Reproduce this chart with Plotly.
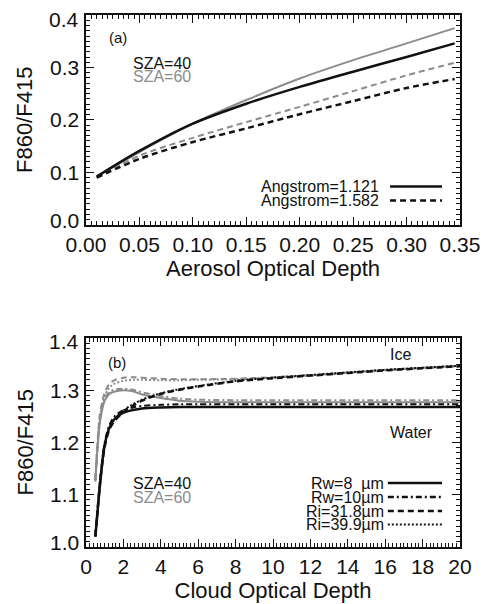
import plotly.graph_objects as go
from plotly.subplots import make_subplots

# ---------------- Panel (a) data ----------------
aod = [0.01, 0.05, 0.10, 0.15, 0.20, 0.25, 0.30, 0.345]
a_sza40_ang1121 = [0.092, 0.141, 0.193, 0.231, 0.263, 0.292, 0.320, 0.346]
a_sza60_ang1121 = [0.092, 0.139, 0.193, 0.238, 0.279, 0.314, 0.346, 0.375]
a_sza40_ang1582 = [0.090, 0.126, 0.158, 0.184, 0.211, 0.236, 0.261, 0.278]
a_sza60_ang1582 = [0.090, 0.132, 0.166, 0.196, 0.225, 0.255, 0.285, 0.309]

# ---------------- Panel (b) data ----------------
cod = [0.5, 0.6, 0.75, 1.0, 1.25, 1.5, 2.0, 2.5, 3.0, 4.0, 5.0, 6.0, 8.0, 10.0, 12.0, 14.0, 16.0, 18.0, 20.0]
b_rw8_sza40   = [1.020, 1.060, 1.120, 1.195, 1.228, 1.244, 1.257, 1.262, 1.265, 1.267, 1.268, 1.268, 1.268, 1.268, 1.268, 1.268, 1.268, 1.268, 1.268]
b_rw10_sza40  = [1.022, 1.064, 1.125, 1.200, 1.233, 1.249, 1.262, 1.267, 1.270, 1.272, 1.273, 1.273, 1.273, 1.273, 1.273, 1.273, 1.273, 1.273, 1.273]
b_ri318_sza40 = [1.020, 1.062, 1.122, 1.192, 1.225, 1.240, 1.258, 1.270, 1.280, 1.293, 1.301, 1.307, 1.317, 1.323, 1.328, 1.333, 1.338, 1.342, 1.346]
b_ri399_sza40 = [1.021, 1.063, 1.124, 1.195, 1.228, 1.243, 1.261, 1.273, 1.282, 1.294, 1.302, 1.308, 1.318, 1.324, 1.329, 1.334, 1.339, 1.343, 1.347]
b_rw8_sza60   = [1.125, 1.180, 1.240, 1.280, 1.293, 1.297, 1.300, 1.298, 1.292, 1.285, 1.280, 1.278, 1.277, 1.277, 1.277, 1.277, 1.277, 1.277, 1.277]
b_rw10_sza60  = [1.128, 1.184, 1.244, 1.284, 1.297, 1.301, 1.303, 1.301, 1.296, 1.289, 1.284, 1.282, 1.281, 1.281, 1.281, 1.281, 1.281, 1.281, 1.281]
b_ri318_sza60 = [1.130, 1.190, 1.255, 1.295, 1.312, 1.319, 1.324, 1.325, 1.324, 1.322, 1.321, 1.321, 1.322, 1.325, 1.329, 1.334, 1.339, 1.343, 1.347]
b_ri399_sza60 = [1.128, 1.186, 1.250, 1.290, 1.305, 1.312, 1.318, 1.320, 1.320, 1.319, 1.319, 1.320, 1.321, 1.324, 1.328, 1.333, 1.338, 1.342, 1.346]

# tick settings: (first tick, major step, minor step)
a_xtick = (0.0, 0.05, 0.005)
a_ytick = (0.0, 0.1, 0.01)
b_xtick = (0, 2, 0.2)
b_ytick = (1.0, 0.1, 0.01)
a_ylabels = [0.0, 0.1, 0.2, 0.3, 0.4]
b_ylabels = [1.0, 1.1, 1.2, 1.3, 1.4]

BLACK = "#111111"
GRAY = "#8c8c8c"
FONT = "Liberation Sans"
DASH = "6px,4px"
DASHDOT = "6px,3px,2px,3px"
DOT = "2px,2px"

fig = make_subplots(rows=2, cols=1)

def add(x, y, color, dash, width, row):
    fig.add_trace(go.Scatter(x=x, y=y, mode="lines",
                             line=dict(color=color, dash=dash, width=width, shape="spline", smoothing=0.9),
                             showlegend=False, hoverinfo="skip"), row=row, col=1)

# panel a: gray first, black on top
add(aod, a_sza60_ang1121, GRAY, "solid", 2, 1)
add(aod, a_sza60_ang1582, GRAY, DASH, 2, 1)
add(aod, a_sza40_ang1121, BLACK, "solid", 2.5, 1)
add(aod, a_sza40_ang1582, BLACK, DASH, 2.5, 1)

# panel b
add(cod, b_rw8_sza60, GRAY, "solid", 2, 2)
add(cod, b_rw10_sza60, GRAY, DASHDOT, 2, 2)
add(cod, b_ri318_sza60, GRAY, DASH, 2, 2)
add(cod, b_ri399_sza60, GRAY, DOT, 2, 2)
add(cod, b_rw8_sza40, BLACK, "solid", 2.5, 2)
add(cod, b_rw10_sza40, BLACK, DASHDOT, 2, 2)
add(cod, b_ri318_sza40, BLACK, DASH, 2.5, 2)
add(cod, b_ri399_sza40, BLACK, DOT, 2, 2)

def axis(tick, rng, fmt, title, domain, labels=True):
    t0, major, minor = tick
    d = dict(range=rng, domain=domain, tickmode="linear", tick0=t0, dtick=major, tickformat=fmt,
             showline=True, linecolor=BLACK, linewidth=2, mirror="allticks",
             ticks="inside", ticklen=8, tickcolor=BLACK, ticklabeloverflow="allow",
             minor=dict(tickmode="linear", tick0=t0, dtick=minor, ticks="inside", ticklen=4, tickcolor=BLACK, showgrid=False),
             showgrid=False, zeroline=False, automargin=False, showticklabels=labels,
             tickfont=dict(family=FONT, size=21, color=BLACK))
    if title:
        d["title"] = dict(text=title, font=dict(family=FONT, size=22, color=BLACK), standoff=4)
    return d

fig.update_layout(
    xaxis=axis(a_xtick, [0, 0.35], ".2f", "Aerosol Optical Depth", [0, 1]),
    yaxis=axis(a_ytick, [0, 0.4], ".1f", None, [0.6053, 1], labels=False),
    xaxis2=axis(b_xtick, [0, 20], "d", "Cloud Optical Depth", [0, 1]),
    yaxis2=axis(b_ytick, [1.0, 1.4], ".1f", None, [0, 0.3929], labels=False),
)

def txt(xr, yr, x, y, s, color=BLACK, size=15, xanchor="left", **kw):
    fig.add_annotation(xref=xr, yref=yr, x=x, y=y, text=s, showarrow=False, xanchor=xanchor, yanchor="middle",
                       borderpad=0, font=dict(family=FONT, size=size, color=color), **kw)

def seg(xr, yr, x0, x1, y, dash, width=2.5):
    fig.add_shape(type="line", xref=xr, yref=yr, x0=x0, x1=x1, y0=y, y1=y,
                  line=dict(color=BLACK, width=width, dash=dash))

# y tick labels (IDL style: end labels nudged inward) and y titles
for labels, yr, xr in [(a_ylabels, "y", "x domain"), (b_ylabels, "y2", "x2 domain")]:
    lo, hi = labels[0], labels[-1]
    for v in labels:
        shift = 4 if v == lo else (-4 if v == hi else 0)
        txt(xr, yr, 0, v, f"{v:.1f}", size=21, xanchor="right", xshift=-6, yshift=shift)
txt("x domain", "y domain", -0.163, 0.5, "F860/F415", size=22, xanchor="center", textangle=-90)
txt("x2 domain", "y2 domain", -0.163, 0.5, "F860/F415", size=22, xanchor="center", textangle=-90)

# panel a annotations
txt("x domain", "y domain", 0.0856, 0.895, "(a)", size=15, xanchor="center")
txt("x domain", "y domain", 0.123, 0.771, "SZA=40", size=16)
txt("x domain", "y domain", 0.123, 0.705, "SZA=60", color=GRAY, size=16)
txt("x domain", "y domain", 0.786, 0.183, "Angstrom=1.121", size=16, xanchor="right")
txt("x domain", "y domain", 0.786, 0.117, "Angstrom=1.582", size=16, xanchor="right")
seg("x domain", "y domain", 0.813, 0.952, 0.183, "solid")
seg("x domain", "y domain", 0.813, 0.952, 0.117, DASH)

# panel b annotations
txt("x2 domain", "y2 domain", 0.083, 0.885, "(b)", size=15, xanchor="center")
txt("x2 domain", "y2 domain", 0.840, 0.919, "Ice", size=16, xanchor="center")
txt("x2 domain", "y2 domain", 0.869, 0.550, "Water", size=16, xanchor="center")
txt("x2 domain", "y2 domain", 0.123, 0.306, "SZA=40", size=16)
txt("x2 domain", "y2 domain", 0.123, 0.239, "SZA=60", color=GRAY, size=16)
leg_b = ["Rw=8  µm", "Rw=10µm", "Ri=31.8µm", "Ri=39.9µm"]
leg_b_dash = ["solid", DASHDOT, DASH, DOT]
leg_b_y = [0.306, 0.239, 0.172, 0.108]
for s, d, yy in zip(leg_b, leg_b_dash, leg_b_y):
    txt("x2 domain", "y2 domain", 0.80, yy, s.replace("  ", "&nbsp;&nbsp;"), size=16, xanchor="right")
    seg("x2 domain", "y2 domain", 0.807, 0.952, yy, d, width=2 if d == DOT else 2.5)

# the page body has an 8px margin, so the figure is shifted by 8px right and down
fig.update_layout(width=481, height=596, margin=dict(l=78, r=29, t=7, b=57, autoexpand=False),
                  paper_bgcolor="white", plot_bgcolor="white", showlegend=False)

fig.write_html("out.html")
